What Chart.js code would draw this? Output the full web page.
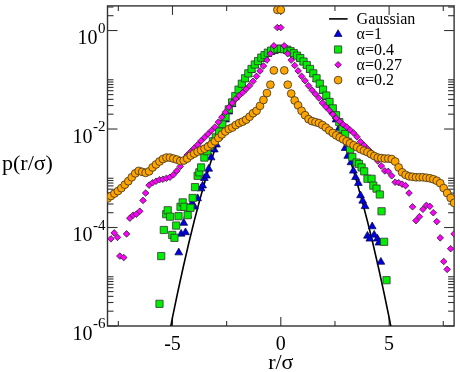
<!DOCTYPE html>
<html>
<head>
<meta charset="utf-8">
<script src="https://cdn.jsdelivr.net/npm/chart.js@4/dist/chart.umd.min.js"></script>
<style>
html,body{margin:0;padding:0;background:#fff}
canvas{display:block}
</style>
</head>
<body>
<canvas id="c" width="460" height="372"></canvas>
<script>
const binX=[-8.00,-7.84,-7.68,-7.52,-7.36,-7.20,-7.04,-6.88,-6.72,-6.56,-6.40,-6.24,-6.08,-5.92,-5.76,-5.60,-5.44,-5.28,-5.12,-4.96,
  -4.80,-4.64,-4.48,-4.32,-4.16,-4.00,-3.84,-3.68,-3.52,-3.36,-3.20,-3.04,-2.88,-2.72,-2.56,-2.40,-2.24,-2.08,-1.92,-1.76,
  -1.60,-1.44,-1.28,-1.12,-0.96,-0.80,-0.64,-0.48,-0.32,-0.16,0.00,0.16,0.32,0.48,0.64,0.80,0.96,1.12,1.28,1.44,
  1.60,1.76,1.92,2.08,2.24,2.40,2.56,2.72,2.88,3.04,3.20,3.36,3.52,3.68,3.84,4.00,4.16,4.32,4.48,4.64,
  4.80,4.96,5.12,5.28,5.44,5.60,5.76,5.92,6.08,6.24,6.40,6.56,6.72,6.88,7.04,7.20,7.36,7.52,7.68,7.84,8.00];

const centreX=[-2.85,-2.70,-2.55,-2.40,-2.25,-2.10,-1.95,-1.80,-1.65,-1.50,-1.35,-1.20,-1.05,-0.90,-0.75,-0.60,-0.45,-0.30,-0.15,0,
  0.15,0.30,0.45,0.60,0.75,0.90,1.05,1.20,1.35,1.50,1.65,1.80,1.95,2.10,2.25,2.40,2.55,2.70,2.85];

// Gaussian
const gaussX=[-5.5,-5,-4.5,-4,-3.5,-3,-2.5,-2,-1.5,-1,-0.5,0,0.5,1,1.5,2,2.5,3,3.5,4,4.5,5,5.5];
const gaussP=[1.08e-7,1.49e-6,1.6e-5,1.34e-4,8.73e-4,4.43e-3,1.75e-2,5.4e-2,0.1295,0.242,0.352,0.399,
  0.352,0.242,0.1295,5.4e-2,1.75e-2,4.43e-3,8.73e-4,1.34e-4,1.6e-5,1.49e-6,1.08e-7];

// alpha = 1
const a1X=[-4.71,-4.60,-4.48,-4.40,-4.30,-4.10,-3.99,-3.84,-3.68,-3.61,-3.53,-3.43,-3.33,-3.22,-3.07,-2.97,
  ...centreX,
  2.97,3.09,3.24,3.35,3.45,3.58,3.68,3.78,3.89,4.00,4.11,4.22,4.31,4.46,4.53,4.62];
const a1Log=[-4.51,-4.13,-3.91,-4.10,-3.75,-3.51,-3.58,-3.41,-3.21,-3.15,-3.00,-2.95,-2.81,-2.58,-2.42,-2.32,
  -2.16,-1.98,-1.81,-1.65,-1.50,-1.36,-1.23,-1.10,-0.99,-0.89,-0.80,-0.71,-0.64,-0.58,-0.52,-0.48,-0.44,-0.42,-0.40,-0.40,
  -0.40,-0.42,-0.44,-0.48,-0.52,-0.58,-0.64,-0.71,-0.80,-0.89,-0.99,-1.10,-1.23,-1.36,-1.50,-1.65,-1.81,-1.98,-2.16,
  -2.39,-2.55,-2.68,-2.85,-2.98,-3.10,-3.35,-3.46,-3.57,-4.17,-4.23,-3.98,-4.15,-4.23,-4.31,-4.70];

// alpha = 0.4
const a04X=[-5.60,-5.52,-5.40,-5.29,-5.22,-5.11,-5.01,-4.91,-4.83,-4.72,-4.63,-4.53,-4.45,-4.30,-4.17,-4.07,-3.96,-3.84,-3.76,-3.68,
  -3.53,-3.40,-3.27,-3.13,-3.00,
  ...centreX,
  2.97,3.09,3.20,3.30,3.50,3.61,3.73,3.85,4.00,4.19,4.27,4.42,4.57,4.65,4.77,4.88];
const a04Log=[-5.55,-4.58,-4.05,-3.73,-3.65,-3.78,-4.15,-4.21,-3.96,-3.77,-3.58,-3.49,-3.58,-3.75,-3.60,-3.40,-3.18,-2.95,-2.88,-2.78,
  -2.58,-2.45,-2.35,-2.25,-2.17,
  -2.05,-1.90,-1.76,-1.60,-1.46,-1.33,-1.20,-1.08,-0.97,-0.87,-0.78,-0.69,-0.62,-0.55,-0.50,-0.45,-0.41,-0.39,-0.37,-0.37,
  -0.38,-0.39,-0.42,-0.46,-0.51,-0.56,-0.63,-0.70,-0.78,-0.87,-0.97,-1.08,-1.20,-1.32,-1.45,-1.58,-1.72,-1.86,-2.00,
  -2.10,-2.26,-2.41,-2.57,-2.68,-2.71,-2.78,-2.86,-3.01,-3.01,-3.15,-3.21,-3.33,-3.67,-4.29,-5.07];

// alpha = 0.27
const a027X=[-7.84,-7.69,-7.54,-7.43,-7.25,-7.12,-6.97,-6.82,-6.67,-6.51,-6.36,...binX.slice(11)];
const a027Log=[-4.23,-4.11,-4.20,-4.58,-4.61,-4.13,-3.81,-3.75,-3.73,-3.67,-3.45,
  -3.30,-3.14,-3.09,-3.06,-3.03,-3.02,-3.00,-2.98,-2.93,-2.85,-2.76,-2.62,-2.53,-2.46,-2.39,-2.32,-2.24,-2.17,-2.10,-2.03,
  -1.96,-1.86,-1.76,-1.66,-1.56,-1.47,-1.39,-1.32,-1.26,-1.19,-1.12,-1.03,-0.93,-0.82,-0.72,-0.60,-0.47,-0.31,0.06,
  0.06,-0.31,-0.47,-0.60,-0.71,-0.82,-0.93,-1.02,-1.12,-1.21,-1.29,-1.37,-1.47,-1.55,-1.62,-1.70,-1.78,-1.85,-1.91,-1.96,
  -2.02,-2.08,-2.16,-2.26,-2.33,-2.40,-2.47,-2.55,-2.65,-2.75,-2.85,-2.86,-2.95,-3.08,-3.09,-3.12,-3.15,-3.30,-3.58,-3.86,
  -3.78,-3.63,-3.55,-3.57,-3.70,-3.88,-4.21,-4.69,-4.85,-4.43,-4.13];

// alpha = 0.2
const a02X=binX;
const a02Log=[-3.41,-3.36,-3.31,-3.26,-3.20,-3.13,-3.06,-2.98,-2.90,-2.85,-2.87,-2.89,-2.86,-2.78,-2.72,-2.66,-2.61,-2.58,-2.58,-2.60,
  -2.62,-2.65,-2.64,-2.60,-2.54,-2.50,-2.46,-2.43,-2.40,-2.36,-2.31,-2.25,-2.18,-2.11,-2.05,-2.00,-1.97,-1.92,-1.88,-1.85,
  -1.81,-1.75,-1.68,-1.63,-1.53,-1.41,-1.27,-1.10,-0.81,0.42,0.42,-0.81,-1.10,-1.28,-1.42,-1.52,-1.63,-1.72,-1.80,-1.84,
  -1.86,-1.88,-1.92,-1.97,-2.03,-2.08,-2.13,-2.17,-2.21,-2.25,-2.29,-2.33,-2.37,-2.41,-2.44,-2.47,-2.51,-2.55,-2.58,-2.59,
  -2.60,-2.60,-2.61,-2.66,-2.78,-2.88,-2.93,-2.96,-2.97,-2.98,-2.98,-2.98,-2.99,-3.00,-3.02,-3.05,-3.10,-3.20,-3.30,-3.40,-3.50];

const legendLabels=['Gaussian','\u03b1=1','\u03b1=0.4','\u03b1=0.27','\u03b1=0.2'];
const xTicks=[-5,0,5];
const xTickLabels=['-5','0','5'];
const xMinor=[-7.5,-2.5,2.5,7.5];
const yTicks=[1,1e-2,1e-4,1e-6];
const yTickExp=['0','-2','-4','-6'];

const FONT='"Liberation Serif","Times New Roman",serif';
const pts=(xs,logs)=>xs.map((x,i)=>({x,y:Math.pow(10,logs[i])}));

const datasets=[
  {label:legendLabels[0],data:gaussX.map((x,i)=>({x,y:gaussP[i]})),showLine:true,pointRadius:0,
   borderColor:'#000',borderWidth:1.6,cubicInterpolationMode:'monotone',order:5},
  {label:legendLabels[1],data:pts(a1X,a1Log),pointStyle:'triangle',pointRadius:4.5,
   backgroundColor:'#0000e0',borderColor:'#000040',borderWidth:0.7,order:4},
  {label:legendLabels[2],data:pts(a04X,a04Log),pointStyle:'rect',pointRadius:5.1,
   backgroundColor:'#00ee00',borderColor:'#333',borderWidth:0.8,order:3},
  {label:legendLabels[3],data:pts(a027X,a027Log),pointStyle:'rectRot',pointRadius:3.3,
   backgroundColor:'#ff00ff',borderColor:'#222',borderWidth:0.8,order:2},
  {label:legendLabels[4],data:pts(a02X,a02Log),pointStyle:'circle',pointRadius:3.9,
   backgroundColor:'#ffa500',borderColor:'#3a3020',borderWidth:0.8,order:1}
];

const framePlugin={
  id:'frame',
  beforeDatasetsDraw(chart){
    const {ctx,chartArea:a,scales:{x,y}}=chart;
    ctx.save();
    ctx.strokeStyle='#333';
    ctx.lineWidth=1.4;
    ctx.strokeRect(a.left,a.top,a.right-a.left,a.bottom-a.top);
    const line=(x0,y0,x1,y1)=>{ctx.beginPath();ctx.moveTo(x0,y0);ctx.lineTo(x1,y1);ctx.stroke();};
    ctx.lineWidth=1.1;
    xTicks.forEach(v=>{const p=x.getPixelForValue(v);line(p,a.bottom,p,a.bottom-9);line(p,a.top,p,a.top+9);});
    xMinor.forEach(v=>{const p=x.getPixelForValue(v);line(p,a.bottom,p,a.bottom-5);line(p,a.top,p,a.top+5);});
    yTicks.forEach(v=>{const p=y.getPixelForValue(v);line(a.left,p,a.left+10,p);line(a.right,p,a.right-10,p);});
    yTicks.forEach(base=>{
      for(let m=2;m<=10;m++){
        const v=base*m;
        if(v>y.max) break;
        const p=y.getPixelForValue(v);
        line(a.left,p,a.left+6,p);line(a.right,p,a.right-6,p);
      }
    });
    ctx.restore();
  },
  afterDatasetsDraw(chart){
    const {ctx,chartArea:a,scales:{x,y}}=chart;
    ctx.save();
    ctx.fillStyle='#000';
    // x tick labels
    ctx.font='20px '+FONT;
    ctx.textAlign='center';
    ctx.textBaseline='alphabetic';
    xTicks.forEach((v,i)=>ctx.fillText(xTickLabels[i],x.getPixelForValue(v),a.bottom+23.5));
    // y tick labels 10^n
    ctx.textAlign='right';
    yTicks.forEach((v,i)=>{
      const p=y.getPixelForValue(v);
      ctx.font='15px '+FONT;
      const w=ctx.measureText(yTickExp[i]).width;
      ctx.fillText(yTickExp[i],a.left-2,p+2);
      ctx.font='20px '+FONT;
      ctx.fillText('10',a.left-2.5-w,p+13.5);
    });
    // axis titles
    ctx.font='22px '+FONT;
    ctx.textAlign='center';
    ctx.fillText('r/\u03c3',(a.left+a.right)/2,a.bottom+43);
    ctx.textAlign='left';
    ctx.fillText('p(r/\u03c3)',2,170);
    // legend
    ctx.font='16px '+FONT;
    const symX=a.right-116, txtX=a.right-97.5;
    chart.data.datasets.forEach((ds,i)=>{
      const cy=a.top+13+i*15.3;
      if(i===0){
        ctx.strokeStyle=ds.borderColor;ctx.lineWidth=ds.borderWidth;
        ctx.beginPath();ctx.moveTo(symX-9,cy);ctx.lineTo(symX+9.5,cy);ctx.stroke();
      }else{
        ctx.fillStyle=ds.backgroundColor;ctx.strokeStyle=ds.borderColor;ctx.lineWidth=ds.borderWidth;
        Chart.helpers.drawPoint(ctx,{pointStyle:ds.pointStyle,radius:ds.pointRadius,rotation:0,borderWidth:ds.borderWidth},symX,cy);
      }
      ctx.fillStyle='#000';
      ctx.fillText(ds.label,txtX,cy+5);
    });
    ctx.restore();
  }
};

new Chart(document.getElementById('c'),{
  type:'scatter',
  data:{datasets},
  options:{
    responsive:false,
    animation:false,
    devicePixelRatio:1,
    events:[],
    layout:{padding:{left:107.5,right:3.5,top:1,bottom:46}},
    plugins:{legend:{display:false},tooltip:{enabled:false}},
    scales:{
      x:{type:'linear',min:-8,max:8,display:false},
      y:{type:'logarithmic',min:1e-6,max:Math.pow(10,0.5),display:false}
    }
  },
  plugins:[framePlugin]
});
</script>
</body>
</html>
